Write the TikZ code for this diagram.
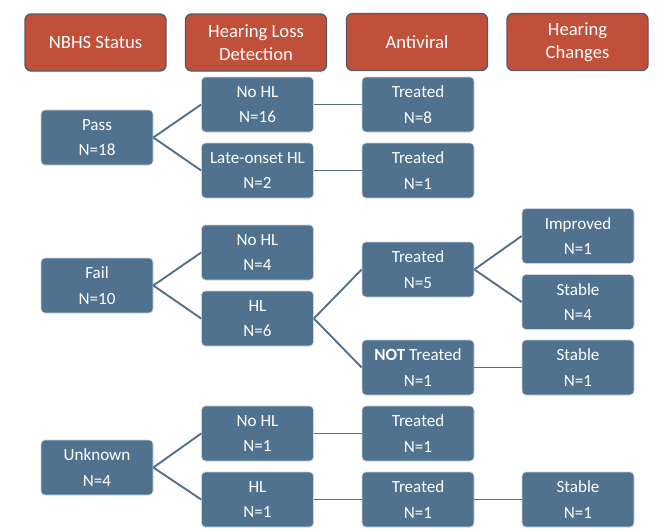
\documentclass[tikz,border=0pt]{standalone}
\usepackage{fontspec}
\setmainfont{Carlito}
\definecolor{hdrred}{RGB}{192,80,58}
\definecolor{hdredge}{RGB}{85,90,98}
\definecolor{boxblue}{RGB}{80,114,142}
\definecolor{boxedge}{RGB}{200,212,222}
\definecolor{linkblue}{RGB}{84,110,135}
\tikzset{
  hdr/.style={rectangle, rounded corners=4.5pt, fill=hdrred, draw=hdredge, line width=1pt,
    minimum width=105.75pt, minimum height=42.75pt, inner sep=0pt, text=white, align=center,
    font=\fontsize{14}{17}\selectfont},
  blk/.style={rectangle, rounded corners=3pt, fill=boxblue, draw=boxedge, line width=0.5pt,
    minimum width=84pt, minimum height=41.25pt, inner sep=0pt, text=white, align=center,
    font=\fontsize{12.8}{19}\selectfont},
  link/.style={draw=linkblue, line width=1.4pt}
}
\begin{document}
\begin{tikzpicture}[x=0.75pt,y=-0.75pt]
\useasboundingbox (0,0) rectangle (668,529);
% headers
\node[hdr] (h1) at (95.5,42.5) {NBHS Status};
\node[hdr] (h2) at (256,42.5) {Hearing Loss\\Detection};
\node[hdr] (h3) at (417,42) {Antiviral};
\node[hdr] (h4) at (577.5,42) {Hearing\\Changes};
% connectors (drawn first, under the boxes)
\begin{scope}[on background layer/.style={}]
\end{scope}
% column 1
\node[blk] (pass) at (97,137.5) {Pass\\N=18};
\node[blk] (fail) at (97,285.5) {Fail\\N=10};
\node[blk] (unk) at (97,467.5) {Unknown\\N=4};
% column 2
\node[blk] (nohla) at (257.5,104.5) {No HL\\N=16};
\node[blk] (late) at (257.5,170.5) {Late-onset HL\\N=2};
\node[blk] (nohlb) at (257.5,252.5) {No HL\\N=4};
\node[blk] (hlb) at (257.5,318.5) {HL\\N=6};
\node[blk] (nohlc) at (257.5,433.5) {No HL\\N=1};
\node[blk] (hlc) at (257.5,499.5) {HL\\N=1};
% column 3
\node[blk] (ta) at (418,104.5) {Treated\\N=8};
\node[blk] (tb) at (418,170.5) {Treated\\N=1};
\node[blk] (tc) at (418,269.5) {Treated\\N=5};
\node[blk] (nt) at (418,367.5) {\textbf{NOT} Treated\\N=1};
\node[blk] (td) at (418,433.5) {Treated\\N=1};
\node[blk] (te) at (418,499.5) {Treated\\N=1};
% column 4
\node[blk] (imp) at (578,236) {Improved\\N=1};
\node[blk] (sa) at (578,302) {Stable\\N=4};
\node[blk] (sb) at (578,367.5) {Stable\\N=1};
\node[blk] (sc) at (578,499.5) {Stable\\N=1};
% connectors
\draw[link] (pass.east) -- (nohla.west);
\draw[link] (pass.east) -- (late.west);
\draw[link] (fail.east) -- (nohlb.west);
\draw[link] (fail.east) -- (hlb.west);
\draw[link] (unk.east) -- (nohlc.west);
\draw[link] (unk.east) -- (hlc.west);
\draw[link] (nohla.east) -- (ta.west);
\draw[link] (late.east) -- (tb.west);
\draw[link] (hlb.east) -- (tc.west);
\draw[link] (hlb.east) -- (nt.west);
\draw[link] (nohlc.east) -- (td.west);
\draw[link] (hlc.east) -- (te.west);
\draw[link] (tc.east) -- (imp.west);
\draw[link] (tc.east) -- (sa.west);
\draw[link] (nt.east) -- (sb.west);
\draw[link] (te.east) -- (sc.west);
\end{tikzpicture}
\end{document}
